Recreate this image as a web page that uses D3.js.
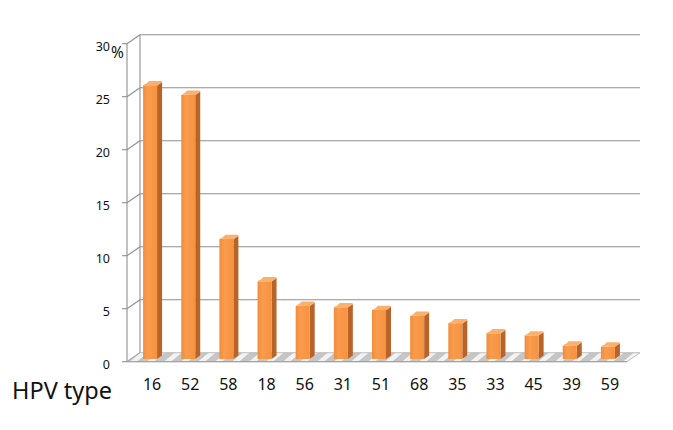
<!DOCTYPE html>
<html>
<head>
<meta charset="utf-8">
<script src="https://cdn.jsdelivr.net/npm/d3@7"></script>
<style>
  body { margin: 0; background: #fff; }
  svg { display: block; }
</style>
</head>
<body>
<div id="chart"></div>
<script>
// data
const types = ['16', '52', '58', '18', '56', '31', '51', '68', '35', '33', '45', '39', '59'];
const percent = [25.9, 25.0, 11.4, 7.4, 5.1, 4.95, 4.7, 4.15, 3.45, 2.5, 2.3, 1.35, 1.25];
const yTicks = [0, 5, 10, 15, 20, 25, 30];

const width = 673, height = 430;
// depth offset between the front edge and the back wall
const depth = {dx: 13, dy: -9};

const svg = d3.select("#chart")
    .append("svg")
    .attr("width", width)
    .attr("height", height);

// back wall scale
const y = d3.scaleLinear()
    .domain([0, 30])
    .range([352.7, 34.7]);

// categories at mid depth
const x = d3.scaleBand()
    .domain(types)
    .range([133, 629])
    .padding(0);

const xFront0 = 127, xBack0 = xFront0 + depth.dx, xBack1 = 640;

// floor pattern (gray with light diagonal stripes)
const defs = svg.append("defs");
const pat = defs.append("pattern")
    .attr("id", "floorHatch")
    .attr("patternUnits", "userSpaceOnUse")
    .attr("width", 17)
    .attr("height", 9)
    .attr("patternTransform", "skewX(-50)");
pat.append("rect").attr("width", 17).attr("height", 9).attr("fill", "#c6c6c6");
pat.append("rect").attr("x", 0).attr("width", 7).attr("height", 9).attr("fill", "#f2f2f2");

const frontGrad = defs.append("linearGradient")
    .attr("id", "frontGrad").attr("x1", 0).attr("x2", 1).attr("y1", 0).attr("y2", 0);
frontGrad.append("stop").attr("offset", "0%").attr("stop-color", "#f08d3c");
frontGrad.append("stop").attr("offset", "35%").attr("stop-color", "#f99c4d");
frontGrad.append("stop").attr("offset", "100%").attr("stop-color", "#f5923f");

// back wall gridlines
svg.append("g")
    .selectAll("line")
    .data(yTicks.filter(d => d > 0))
    .join("line")
    .attr("x1", xBack0)
    .attr("x2", xBack1)
    .attr("y1", d => y(d))
    .attr("y2", d => y(d))
    .attr("stroke", "#8f8f8f")
    .attr("stroke-width", 1.1);

// back wall left edge
svg.append("line")
    .attr("x1", xBack0).attr("x2", xBack0)
    .attr("y1", y(30)).attr("y2", y(0))
    .attr("stroke", "#8f8f8f").attr("stroke-width", 1.1);

// left wall: front edge and diagonals
svg.append("line")
    .attr("x1", xFront0).attr("x2", xFront0)
    .attr("y1", y(30) - depth.dy).attr("y2", y(0) - depth.dy)
    .attr("stroke", "#8f8f8f").attr("stroke-width", 1.1);

svg.append("g")
    .selectAll("line")
    .data(yTicks)
    .join("line")
    .attr("x1", xFront0)
    .attr("x2", xBack0)
    .attr("y1", d => y(d) - depth.dy)
    .attr("y2", d => y(d))
    .attr("stroke", "#8f8f8f")
    .attr("stroke-width", 1.1);

// floor
const floorPts = [
    [xFront0, y(0) - depth.dy],
    [xBack1 - depth.dx, y(0) - depth.dy],
    [xBack1, y(0)],
    [xBack0, y(0)]
];
svg.append("path")
    .attr("d", d3.line()(floorPts) + "Z")
    .attr("fill", "url(#floorHatch)")
    .attr("stroke", "#b0b0b0")
    .attr("stroke-width", 0.8);
svg.append("line")
    .attr("x1", xFront0).attr("x2", xBack1 - depth.dx)
    .attr("y1", y(0) - depth.dy).attr("y2", y(0) - depth.dy)
    .attr("stroke", "#9a9a9a").attr("stroke-width", 1);

// front axis ticks
svg.append("g")
    .selectAll("line")
    .data(yTicks)
    .join("line")
    .attr("x1", xFront0 - 5)
    .attr("x2", xFront0)
    .attr("y1", d => y(d) - depth.dy)
    .attr("y2", d => y(d) - depth.dy)
    .attr("stroke", "#8f8f8f")
    .attr("stroke-width", 1.1);

// y tick labels
svg.append("g")
    .selectAll("text")
    .data(yTicks)
    .join("text")
    .attr("x", 110)
    .attr("y", d => y(d) - depth.dy + 2.5)
    .attr("dy", "0.35em")
    .attr("text-anchor", "end")
    .attr("font-family", "'Noto Sans', sans-serif")
    .attr("font-size", 12.5)
    .attr("fill", "#111")
    .text(d => d);

svg.append("text")
    .attr("x", 111)
    .attr("y", y(30) - depth.dy + 14)
    .attr("font-family", "'Noto Sans', sans-serif")
    .attr("font-size", 15.5)
    .attr("fill", "#111")
    .text("%");

// bars: front face, side face, top face
const barFrontW = 14, barSideW = 5;
const barDy = barSideW * depth.dy / depth.dx;
const yBar = v => y(v) + 6.3; // bars sit a little in front of the back wall

const bars = svg.append("g")
    .selectAll("g")
    .data(types.map((t, i) => ({type: t, value: percent[i]})))
    .join("g")
    .attr("transform", d => `translate(${x(d.type) + x.bandwidth() / 2 - (barFrontW + barSideW) / 2 + 0.5}, 0)`);

bars.append("path")
    .attr("d", d => {
        const t = yBar(d.value), b = yBar(0);
        return `M${barFrontW},${t + 1} L${barFrontW + barSideW},${t + barDy + 1} L${barFrontW + barSideW},${b + barDy} L${barFrontW},${b} Z`;
    })
    .attr("fill", "#b8632a");

bars.append("path")
    .attr("d", d => {
        const t = yBar(d.value);
        return `M0.5,${t + 0.5} Q1,${t - 0.2} 3,${t + barDy * 0.2} L${barSideW + 1},${t + barDy}
                L${barFrontW + barSideW - 1},${t + barDy} Q${barFrontW + barSideW},${t + barDy} ${barFrontW + barSideW},${t + barDy + 1.2}
                L${barFrontW},${t + 1} Z`;
    })
    .attr("fill", "#fbb06e");

bars.append("rect")
    .attr("x", 0)
    .attr("y", d => yBar(d.value) + 0.8)
    .attr("width", barFrontW)
    .attr("height", d => yBar(0) - yBar(d.value) - 0.8)
    .attr("fill", "url(#frontGrad)");

// category labels
svg.append("g")
    .selectAll("text")
    .data(types)
    .join("text")
    .attr("x", d => x(d) + x.bandwidth() / 2)
    .attr("y", 390)
    .attr("text-anchor", "middle")
    .attr("font-family", "'Noto Sans', sans-serif")
    .attr("font-size", 16)
    .attr("fill", "#111")
    .text(d => d);

svg.append("text")
    .attr("x", 12)
    .attr("y", 399)
    .attr("font-family", "'Noto Sans', sans-serif")
    .attr("font-size", 23.5)
    .attr("fill", "#111")
    .text("HPV type");
</script>
</body>
</html>
